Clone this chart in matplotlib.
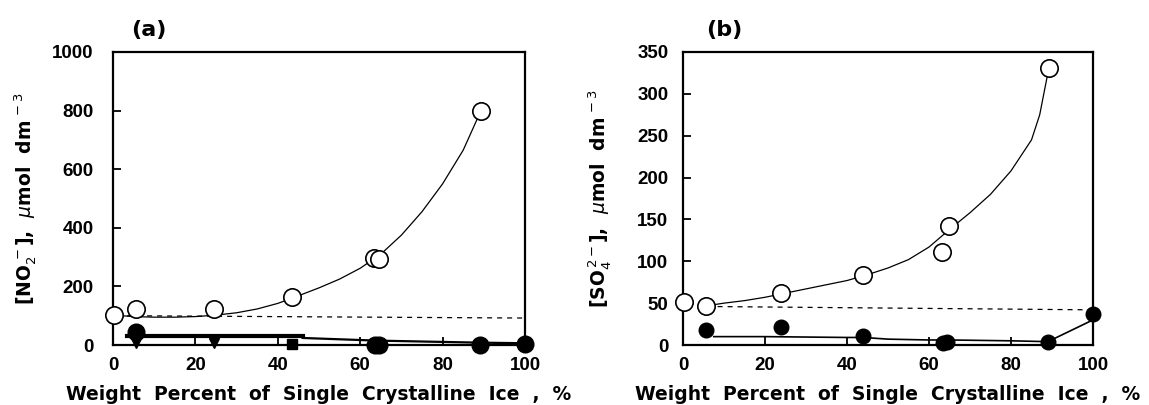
import matplotlib

matplotlib.use("Agg")
import matplotlib.pyplot as plt

# ---- panel (a): nitrite ----
open_x_a = [0.3, 5.5, 24.5, 43.5, 63.3, 64.6, 89.2]
open_y_a = [104, 122, 122, 164, 297, 295, 800]
curve_x_a = [0, 5, 10, 15, 20, 25, 30, 35, 40, 45, 50, 55, 60, 65, 70, 75, 80, 85, 89]
curve_y_a = [102, 97, 95, 95, 97, 102, 110, 123, 142, 168, 195, 225, 262, 310, 375, 455, 550, 665, 790]
dash_x_a = [1, 100]
dash_y_a = [100, 92]
filled_x_a = [5.5, 63.5, 64.6, 89, 100]
filled_y_a = [45, 0, 0, 0, 5]
tri_x_a = [5.5, 24.5]
tri_y_a = [6, 6]
sq_x_a = [43.5]
sq_y_a = [4]
bar_x_a = [3.5, 46]
bar_y_a = [30, 30]
fline_x_a = [46, 64, 89, 100]
fline_y_a = [24, 15, 8, 6]

# ---- panel (b): sulfate ----
open_x_b = [0.3, 5.6, 23.8, 43.9, 63.2, 64.8, 89.2]
open_y_b = [51, 47, 62.5, 83.5, 111, 142, 331]
curve_x_b = [6, 10, 15, 20, 25, 30, 35, 40, 45, 50, 55, 60, 65, 70, 75, 80, 85, 87, 89]
curve_y_b = [47, 50, 53, 57, 62, 67, 72, 77, 84, 92, 102, 117, 138, 158, 180, 208, 245, 275, 325]
dash_x_b = [6, 100]
dash_y_b = [46, 42]
filled_x_b = [5.5, 24, 44, 63.5, 64.5, 89, 100]
filled_y_b = [18, 21, 11, 2, 4, 3, 37]
fline_x_b = [7.5, 20, 40, 44, 50, 60, 65, 80, 89, 100]
fline_y_b = [10, 10, 9, 9, 7, 6, 6, 5, 4, 30]

xticks = [0, 20, 40, 60, 80, 100]
yticks_a = [0, 200, 400, 600, 800, 1000]
yticks_b = [0, 50, 100, 150, 200, 250, 300, 350]

xlabel_text = "Weight  Percent  of  Single  Crystalline  Ice  ,  %"
ylabel_a = r"[NO$_2^{\,-}$],  $\mu$mol  dm$^{\,-3}$"
ylabel_b = r"[SO$_4^{\,2-}$],  $\mu$mol  dm$^{\,-3}$"

W, H = 1149, 405
fig = plt.figure(figsize=(W / 100, H / 100), dpi=100)
ax_a = fig.add_axes([113 / W, 1 - 345 / H, 412 / W, 293 / H])
ax_b = fig.add_axes([683 / W, 1 - 345 / H, 410 / W, 293 / H])

tick_font = dict(family="Liberation Sans", weight="bold", size=13.5)
label_font = dict(family="DejaVu Sans", weight="bold", size=13.5)


def style_axis(ax, ymax, yticks, ypad):
    ax.set_xlim(0, 100)
    ax.set_ylim(0, ymax)
    ax.set_xticks(xticks)
    ax.set_yticks(yticks)
    ax.tick_params(direction="in", length=6, width=1.3, colors="black")
    ax.tick_params(axis="y", pad=ypad)
    ax.tick_params(axis="x", pad=9)
    for lab in ax.get_xticklabels() + ax.get_yticklabels():
        lab.set_fontproperties(matplotlib.font_manager.FontProperties(**tick_font))
    for sp in ax.spines.values():
        sp.set_linewidth(1.6)
    ax.set_xlabel(xlabel_text, **label_font)
    ax.xaxis.set_label_coords(0.5, -0.135)


ring = dict(marker="o", ms=12.5, mfc="white", mec="black", mew=1.2, ls="none", zorder=5, clip_on=False)
dot = dict(marker="o", ms=12, mfc="black", mec="black", ls="none", zorder=5, clip_on=False)

# panel (a)
ax_a.plot(curve_x_a, curve_y_a, color="black", lw=0.9)
ax_a.plot(dash_x_a, dash_y_a, color="black", lw=0.9, ls=(0, (4, 4)))
ax_a.plot(bar_x_a, bar_y_a, color="black", lw=3.0, zorder=6)
ax_a.plot(fline_x_a, fline_y_a, color="black", lw=1.6)
ax_a.plot(tri_x_a, tri_y_a, marker="v", ms=7, color="black", ls="none", clip_on=False)
ax_a.plot(sq_x_a, sq_y_a, marker="s", ms=7, color="black", ls="none", clip_on=False)
ax_a.plot(filled_x_a, filled_y_a, **dot)
ax_a.plot(open_x_a, open_y_a, **ring)
style_axis(ax_a, 1000, yticks_a, 14)
ax_a.set_ylabel(ylabel_a, **label_font)
ax_a.yaxis.set_label_coords(-0.18, 0.5)
ax_a.text(0.087, 1.075, "(a)", transform=ax_a.transAxes, ha="center", va="center",
          family="DejaVu Sans", weight="bold", size=16)

# panel (b)
ax_b.plot(curve_x_b, curve_y_b, color="black", lw=0.9)
ax_b.plot(dash_x_b, dash_y_b, color="black", lw=0.9, ls=(0, (4, 4)))
ax_b.plot(fline_x_b, fline_y_b, color="black", lw=1.2)
ax_b.plot(filled_x_b, filled_y_b, **dict(dot, ms=10.5))
ax_b.plot(open_x_b, open_y_b, **ring)
style_axis(ax_b, 350, yticks_b, 10.5)
ax_b.set_ylabel(ylabel_b, **label_font)
ax_b.yaxis.set_label_coords(-0.17, 0.5)
ax_b.text(0.1, 1.075, "(b)", transform=ax_b.transAxes, ha="center", va="center",
          family="DejaVu Sans", weight="bold", size=16)

fig.savefig("out.png", dpi=100)
plt.close(fig)
